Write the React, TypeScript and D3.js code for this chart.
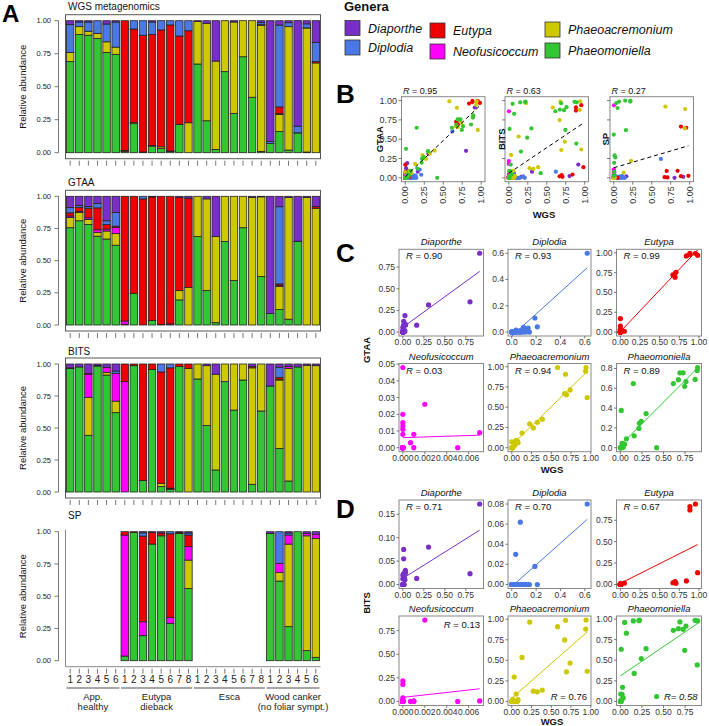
import React from "react";
import * as d3 from "d3";

const FONT = "'Liberation Sans', Arial, Helvetica, sans-serif";

const GENERA = ["Diaporthe", "Diplodia", "Eutypa", "Neofusicoccum", "Phaeoacremonium", "Phaeomoniella"];
const GENUS_COLORS = ["#7a2ec8", "#4a78e4", "#ee0000", "#ff00ff", "#cdc800", "#33c633"];
// stacking order of bars, bottom to top (columns of the abundance rows below)
const STACK_ORDER = ["Phaeomoniella", "Phaeoacremonium", "Neofusicoccum", "Eutypa", "Diplodia", "Diaporthe"];

const GROUP_NAMES = [["App.", "healthy"], ["Eutypa", "dieback"], ["Esca"], ["Wood canker", "(no foliar sympt.)"]];
const GROUP_SIZES = [6, 8, 8, 6];
const SAMPLE_LABELS = ["1", "2", "3", "4", "5", "6", "1", "2", "3", "4", "5", "6", "7", "8", "1", "2", "3", "4", "5", "6", "7", "8", "1", "2", "3", "4", "5", "6"];

// relative abundance per sample, columns in STACK_ORDER
const WGS = [
  [0.69, 0.07, 0, 0, 0.21, 0.03],
  [0.895, 0.06, 0, 0, 0.035, 0.01],
  [0.89, 0.03, 0, 0, 0.07, 0.01],
  [0.866, 0.038, 0, 0, 0.096, 0],
  [0.76, 0.08, 0, 0, 0.135, 0.025],
  [0.745, 0.055, 0, 0, 0.19, 0.01],
  [0.01, 0.005, 0.002, 0.983, 0, 0],
  [0.22, 0.01, 0, 0.707, 0.063, 0],
  [0.005, 0, 0, 0.885, 0.11, 0],
  [0.05, 0.005, 0, 0.84, 0.095, 0.01],
  [0.033, 0.012, 0, 0.885, 0.07, 0],
  [0.01, 0.002, 0.001, 0.955, 0.032, 0],
  [0.215, 0, 0, 0.669, 0.116, 0],
  [0, 0.227, 0, 0.697, 0.076, 0],
  [0.672, 0.323, 0, 0, 0, 0.005],
  [0.242, 0.738, 0, 0, 0, 0.02],
  [0.025, 0.669, 0, 0, 0, 0.306],
  [0.614, 0.386, 0, 0, 0, 0],
  [0.298, 0.692, 0, 0, 0, 0.01],
  [0.727, 0.273, 0, 0, 0, 0],
  [0.42, 0.58, 0, 0, 0, 0],
  [0.01, 0.955, 0.005, 0, 0.015, 0.015],
  [0.07, 0, 0, 0, 0.015, 0.915],
  [0.16, 0.13, 0.007, 0.05, 0.62, 0.033],
  [0.02, 0.935, 0, 0, 0.03, 0.015],
  [0.15, 0, 0.0007, 0, 0.05, 0.8],
  [0.005, 0.94, 0.001, 0, 0.03, 0.024],
  [0, 0.68, 0, 0.01, 0.145, 0.165],
];

const GTAA = [
  [0.756, 0.08, 0.011, 0.025, 0.04, 0.088],
  [0.81, 0.065, 0.008, 0.032, 0.015, 0.07],
  [0.78, 0.04, 0.013, 0.075, 0.012, 0.08],
  [0.69, 0.03, 0.02, 0.17, 0.035, 0.055],
  [0.668, 0.062, 0.015, 0.035, 0.03, 0.19],
  [0.62, 0.09, 0.048, 0.01, 0.107, 0.125],
  [0.005, 0, 0.026, 0.969, 0, 0],
  [0.246, 0, 0, 0.754, 0, 0],
  [0, 0, 0, 0.98, 0.02, 0],
  [0.034, 0, 0, 0.961, 0, 0.005],
  [0.005, 0, 0, 0.995, 0, 0],
  [0, 0, 0.008, 0.992, 0, 0],
  [0.195, 0.072, 0, 0.723, 0, 0.01],
  [0, 0.293, 0, 0.692, 0, 0.015],
  [0.687, 0.313, 0, 0, 0, 0],
  [0.267, 0.713, 0, 0, 0, 0.02],
  [0.018, 0.669, 0, 0, 0, 0.313],
  [0.648, 0.352, 0, 0, 0, 0],
  [0.345, 0.655, 0, 0, 0, 0],
  [0.756, 0.244, 0, 0, 0, 0],
  [0, 0.99, 0, 0, 0, 0.01],
  [0.376, 0.62, 0, 0, 0, 0.004],
  [0.09, 0, 0, 0, 0, 0.91],
  [0.12, 0.18, 0.009, 0.01, 0.6, 0.081],
  [0.045, 0.945, 0, 0, 0, 0.01],
  [0.648, 0, 0.003, 0, 0, 0.349],
  [0, 0.99, 0, 0, 0, 0.01],
  [0, 0.907, 0, 0.013, 0, 0.08],
];

const BITS = [
  [0.965, 0, 0, 0.005, 0, 0.03],
  [0.977, 0, 0, 0, 0, 0.023],
  [0.443, 0.297, 0.18, 0.005, 0, 0.075],
  [0.984, 0, 0, 0.004, 0, 0.012],
  [0.914, 0.021, 0.039, 0, 0, 0.026],
  [0.62, 0.09, 0.217, 0, 0.018, 0.055],
  [0, 0, 0.862, 0.138, 0, 0],
  [0.987, 0, 0, 0.013, 0, 0],
  [0.089, 0, 0, 0.911, 0, 0],
  [0.958, 0, 0, 0.042, 0, 0],
  [0.042, 0.026, 0, 0.87, 0.062, 0],
  [0.02, 0.005, 0.005, 0.94, 0.03, 0],
  [0.98, 0, 0, 0.02, 0, 0],
  [0, 0.966, 0, 0.034, 0, 0],
  [0.883, 0.117, 0, 0, 0, 0],
  [0.52, 0.467, 0, 0, 0, 0.013],
  [0.172, 0.748, 0, 0, 0, 0.08],
  [0.862, 0.138, 0, 0, 0, 0],
  [0.64, 0.36, 0, 0, 0, 0],
  [0.875, 0.125, 0, 0, 0, 0],
  [0.06, 0.91, 0, 0.01, 0, 0.02],
  [0.633, 0.367, 0, 0, 0, 0],
  [0.828, 0, 0, 0, 0, 0.172],
  [0.34, 0.535, 0.005, 0.015, 0.08, 0.025],
  [0.086, 0.88, 0.014, 0, 0, 0.02],
  [0.977, 0, 0, 0, 0, 0.023],
  [0, 0.99, 0, 0, 0, 0.01],
  [0, 0.987, 0, 0, 0, 0.013],
];

const SP = [
  null, null, null, null, null, null,
  [0.036, 0, 0.938, 0.026, 0, 0],
  [0.995, 0, 0, 0.005, 0, 0],
  [0.194, 0, 0.108, 0.664, 0.025, 0.009],
  [0.904, 0, 0, 0.091, 0, 0.005],
  [0.968, 0, 0, 0.022, 0, 0.01],
  [0.29, 0, 0.046, 0.648, 0.016, 0],
  [0.987, 0, 0, 0.008, 0, 0.005],
  [0.56, 0.22, 0.104, 0.09, 0.016, 0.01],
  null, null, null, null, null, null, null, null,
  [0.987, 0, 0, 0, 0, 0.013],
  [0.617, 0.068, 0.07, 0, 0.245, 0],
  [0.264, 0.64, 0.07, 0, 0.016, 0.01],
  [1, 0, 0, 0, 0, 0],
  [0.078, 0.89, 0.019, 0, 0, 0.013],
  [0.026, 0.922, 0.032, 0, 0, 0.02],
];

const ABUND_TICKS = [0, 0.25, 0.5, 0.75, 1];

// Panel B
const B_METHODS = ["GTAA", "BITS", "SP"];
const B_R = ["0.95", "0.63", "0.27"];
const B_FIT = [[0.015, 0.935], [0.06, 0.66], [0.13, 0.29]]; // intercept, slope

// Panels C / D (genus order as GENERA)
const C_R = ["0.90", "0.93", "0.99", "0.03", "0.94", "0.89"];
const D_R = ["0.71", "0.70", "0.67", "0.13", "0.76", "0.58"];
const C_FIT = [[0.055, 0.705], [-0.03, 0.838], [0.005, 1.05], [0.006, 0.214], [0.03, 0.953], [0.024, 0.873]];
const D_FIT = [[0.013, 0.1126], [-0.002, 0.1077], [0.012, 0.462], [0.043, 13.0], [0.04, 0.844], [0.31, 0.711]];
const X_TICKS = [
  [0, 0.25, 0.5, 0.75], [0, 0.2, 0.4, 0.6], [0, 0.25, 0.5, 0.75, 1],
  [0, 0.002, 0.004, 0.006], [0, 0.25, 0.5, 0.75, 1], [0, 0.25, 0.5, 0.75],
];
const C_Y_TICKS = [
  [0, 0.25, 0.5, 0.75], [0, 0.2, 0.4, 0.6], [0, 0.25, 0.5, 0.75, 1],
  [0, 0.01, 0.02, 0.03, 0.04, 0.05], [0, 0.25, 0.5, 0.75, 1], [0, 0.2, 0.4, 0.6, 0.8],
];
const D_Y_TICKS = [
  [0, 0.05, 0.1, 0.15], [0, 0.02, 0.04, 0.06, 0.08], [0, 0.25, 0.5, 0.75],
  [0, 0.25, 0.5, 0.75], [0, 0.25, 0.5, 0.75, 1], [0, 0.25, 0.5, 0.75, 1],
];

const colorOf = (g: string) => GENUS_COLORS[GENERA.indexOf(g)];
const col = (g: string) => STACK_ORDER.indexOf(g);

function fmtFor(ticks: number[]) {
  const dec = d3.max(ticks, (t) => {
    const s = String(+t.toFixed(6));
    const i = s.indexOf(".");
    return i < 0 ? 0 : s.length - i - 1;
  }) || 0;
  return (t: number) => t.toFixed(dec);
}

function expand(ext: [number, number]): [number, number] {
  const r = ext[1] - ext[0] || 1;
  return [ext[0] - 0.05 * r, ext[1] + 0.05 * r];
}

// ---------------- Panel A ----------------
const BAR_X = d3.scaleBand<number>().domain(d3.range(28)).range([66, 320]).paddingInner(0.18).paddingOuter(0.05);

function BarPanel({ title, rows, top, bottom, titleY, boxed }: any) {
  const y = d3.scaleLinear().domain([0, 1]).range([bottom, top]);
  const table = rows
    .map((r: any, i: number) => (r ? { i, ...Object.fromEntries(STACK_ORDER.map((k, j) => [k, r[j]])) } : null))
    .filter(Boolean);
  const series = d3.stack<any>().keys(STACK_ORDER)(table);
  const bx0 = 65.5, bx1 = 320.5, by0 = top - 6, by1 = bottom + 6;
  return (
    <g>
      <text x={68} y={titleY} fontSize={10} fill="#111">{title}</text>
      {series.map((s) => (
        <g key={s.key} fill={colorOf(s.key)}>
          {s.map((d: any) =>
            d[1] - d[0] > 0 ? (
              <rect key={d.data.i} x={BAR_X(d.data.i)} width={BAR_X.bandwidth()} y={y(d[1])} height={y(d[0]) - y(d[1])}
                stroke="#222" strokeWidth={0.8} />
            ) : null
          )}
        </g>
      ))}
      {boxed ? (
        <rect x={bx0} y={by0} width={bx1 - bx0} height={by1 - by0} fill="none" stroke="#555" strokeWidth={1} />
      ) : (
        <path d={`M${bx0},${by0 + 4}V${by1}H${bx1}`} fill="none" stroke="#888" strokeWidth={1} />
      )}
      <line x1={58.5} x2={58.5} y1={y(0)} y2={y(1)} stroke="#555" strokeWidth={0.8} />
      {ABUND_TICKS.map((t) => (
        <g key={t}>
          <line x1={54.5} x2={58.5} y1={y(t)} y2={y(t)} stroke="#555" strokeWidth={0.8} />
          <text x={51} y={y(t)} dy="0.35em" textAnchor="end" fontSize={7.5} fill="#222">{t.toFixed(2)}</text>
        </g>
      ))}
      {d3.range(28).map((i) => (
        <line key={i} x1={BAR_X(i)! + BAR_X.bandwidth() / 2} x2={BAR_X(i)! + BAR_X.bandwidth() / 2}
          y1={by1 + 2} y2={by1 + 7} stroke="#555" strokeWidth={0.8} />
      ))}
      <text transform={`translate(22.5,${(top + bottom) / 2}) rotate(-90)`} textAnchor="middle" dominantBaseline="central"
        fontSize={9.5} fill="#111">Relative abundance</text>
    </g>
  );
}

function SampleAxis() {
  let start = 0;
  const groups = GROUP_SIZES.map((n, gi) => {
    const g = { gi, first: start, last: start + n - 1 };
    start += n;
    return g;
  });
  return (
    <g>
      {SAMPLE_LABELS.map((s, i) => (
        <text key={i} x={BAR_X(i)! + BAR_X.bandwidth() / 2} y={683} textAnchor="middle" fontSize={10} fill="#222">{s}</text>
      ))}
      {groups.map((g) => {
        const x0 = BAR_X(g.first)!, x1 = BAR_X(g.last)! + BAR_X.bandwidth();
        const cx = (x0 + x1) / 2;
        return (
          <g key={g.gi}>
            <line x1={x0} x2={x1} y1={688} y2={688} stroke="#888" strokeWidth={1.6} />
            {GROUP_NAMES[g.gi].map((t, k) => (
              <text key={k} x={cx} y={700 + k * 10} textAnchor="middle" fontSize={9.5} fill="#222">{t}</text>
            ))}
          </g>
        );
      })}
    </g>
  );
}

// ---------------- Legend ----------------
const LEGEND_POS = [
  [345, 20.5], [345, 40], [430, 23], [430, 44], [545, 22], [545, 43],
];
function Legend() {
  return (
    <g>
      <text x={344} y={10.5} fontSize={13} fontWeight="bold" fill="#111">Genera</text>
      {GENERA.map((g, i) => (
        <g key={g}>
          <rect x={LEGEND_POS[i][0]} y={LEGEND_POS[i][1]} width={15} height={15} fill={GENUS_COLORS[i]} stroke="#333" strokeWidth={0.8} />
          <text x={LEGEND_POS[i][0] + 23} y={LEGEND_POS[i][1] + 12} fontSize={12.5} fontStyle="italic" fill="#111">{g}</text>
        </g>
      ))}
    </g>
  );
}

// ---------------- Panel B ----------------
const B_BOX_X = [[401.5, 485], [505, 588.5], [610, 693.5]];
const B_BOX_Y = [96.7, 181.7];
const B_LABEL_X = [379, 501, 605.5];
const METHOD_ROWS: any = { GTAA, BITS, SP };

function BPanel({ mi }: any) {
  const rows = METHOD_ROWS[B_METHODS[mi]];
  const [x0, x1] = B_BOX_X[mi];
  const [y0, y1] = B_BOX_Y;
  const x = d3.scaleLinear().domain([-0.05, 1.05]).range([x0, x1]);
  const y = d3.scaleLinear().domain([-0.05, 1.05]).range([y1, y0]);
  const pts: any[] = [];
  GENERA.forEach((g) => {
    rows.forEach((row: any, s: number) => {
      if (row) pts.push({ g, wx: WGS[s][col(g)], my: row[col(g)] });
    });
  });
  const xe = d3.extent(pts, (p) => p.wx) as [number, number];
  const [a, b] = B_FIT[mi];
  const ticks = [0, 0.25, 0.5, 0.75, 1];
  return (
    <g>
      <rect x={x0} y={y0} width={x1 - x0} height={y1 - y0} fill="#fff" stroke="#888" strokeWidth={1} />
      {pts.map((p, i) => (
        <circle key={i} cx={x(p.wx)} cy={y(p.my)} r={2.1} fill={colorOf(p.g)} />
      ))}
      <line x1={x(xe[0])} y1={y(a + b * xe[0])} x2={x(xe[1])} y2={y(a + b * xe[1])} stroke="#000" strokeWidth={1}
        strokeDasharray="4,3" />
      {ticks.map((t) => (
        <g key={t}>
          <line x1={x0 - 3} x2={x0} y1={y(t)} y2={y(t)} stroke="#444" strokeWidth={0.7} />
          {mi === 0 ? (
            <text x={x0 - 4.5} y={y(t)} dy="0.35em" textAnchor="end" fontSize={9} fill="#333">{t.toFixed(2)}</text>
          ) : null}
          <line x1={x(t)} x2={x(t)} y1={y1} y2={y1 + 3} stroke="#444" strokeWidth={0.7} />
          <text transform={`translate(${x(t)},${y1 + 4.5}) rotate(-90)`} textAnchor="end" dominantBaseline="central"
            fontSize={9} fill="#333">{t.toFixed(2)}</text>
        </g>
      ))}
      <text x={x0 + 1.5} y={y0 - 3} fontSize={9} fill="#111">
        <tspan fontStyle="italic">R</tspan> = {B_R[mi]}
      </text>
      <text transform={`translate(${B_LABEL_X[mi]},${(y0 + y1) / 2}) rotate(-90)`} textAnchor="middle"
        dominantBaseline="central" fontSize={9.5} fontWeight="bold" fill="#111">{B_METHODS[mi]}</text>
    </g>
  );
}

// ---------------- Panels C / D ----------------
const COL_X = [[399, 483.5], [508, 591], [616.5, 701.5]];
const C_ROW_Y = [[249.3, 336], [363.5, 451.7]];
const D_ROW_Y = [[500, 588.5], [616, 705.5]];
// R label placement per facet: tl = top-left, tr = top-right, br = bottom-right
const C_R_POS = ["tl", "tl", "tl", "tl", "tl", "tl"];
const D_R_POS = ["tl", "tl", "tl", "tr", "br", "br"];

function Facet({ gi, rows, rowY, yTicks, fit, rText, rPos, italicAll }: any) {
  const g = GENERA[gi];
  const [x0, x1] = COL_X[gi % 3];
  const [y0, y1] = rowY[Math.floor(gi / 3)];
  const pts = rows.map((row: any, s: number) => [WGS[s][col(g)], row[col(g)]]);
  const xe = d3.extent(pts, (p: any) => p[0]) as [number, number];
  const ye = d3.extent(pts, (p: any) => p[1]) as [number, number];
  const x = d3.scaleLinear().domain(expand(xe)).range([x0, x1]);
  const y = d3.scaleLinear().domain(expand(ye)).range([y1, y0]);
  const xt = X_TICKS[gi];
  const fx = fmtFor(xt), fy = fmtFor(yTicks);
  const [a, b] = fit;
  let rx = x0 + 7, ry = y0 + 10, anchor = "start";
  if (rPos === "tr") { rx = x1 - 3.5; ry = y0 + 12; anchor = "end"; }
  if (rPos === "br") { rx = x1 - 4; ry = y1 - 6; anchor = "end"; }
  return (
    <g>
      <rect x={x0} y={y0} width={x1 - x0} height={y1 - y0} fill="#fff" stroke="#888" strokeWidth={1} />
      {pts.map((p: any, i: number) => (
        <circle key={i} cx={x(p[0])} cy={y(p[1])} r={2.6} fill={GENUS_COLORS[gi]} />
      ))}
      <line x1={x(xe[0])} y1={y(a + b * xe[0])} x2={x(xe[1])} y2={y(a + b * xe[1])} stroke={GENUS_COLORS[gi]} strokeWidth={1} />
      {yTicks.map((t: number) => (
        <g key={t}>
          <line x1={x0 - 2.5} x2={x0} y1={y(t)} y2={y(t)} stroke="#444" strokeWidth={0.7} />
          <text x={x0 - 4} y={y(t)} dy="0.35em" textAnchor="end" fontSize={8.5} fill="#333">{fy(t)}</text>
        </g>
      ))}
      {xt.map((t: number) => (
        <g key={t}>
          <line x1={x(t)} x2={x(t)} y1={y1} y2={y1 + 2.5} stroke="#444" strokeWidth={0.7} />
          <text x={x(t)} y={y1 + 9} textAnchor="middle" fontSize={8.5} fill="#333">{fx(t)}</text>
        </g>
      ))}
      <text x={(x0 + x1) / 2} y={y0 - 4} textAnchor="middle" fontSize={9.5} fontStyle="italic" fill="#111">{g}</text>
      <text x={rx} y={ry} textAnchor={anchor} fontSize={9.5} fill="#111" fontStyle={italicAll ? "italic" : "normal"}>
        {italicAll ? `R= ${rText}` : (<><tspan fontStyle="italic">R</tspan> = {rText}</>)}
      </text>
    </g>
  );
}

export default function App() {
  return (
    <svg width={709} height={726} viewBox="0 0 709 726"
      style={{ position: "absolute", left: 0, top: 0, background: "#fff", fontFamily: FONT }}>
      <rect x={0} y={0} width={709} height={726} fill="#fff" />
      {/* Panel A */}
      <text x={2} y={22} fontSize={24} fontWeight="bold" fill="#000">A</text>
      <BarPanel title="WGS metagenomics" rows={WGS} top={20.7} bottom={152.7} titleY={9.5} boxed />
      <BarPanel title="GTAA" rows={GTAA} top={196.3} bottom={325} titleY={185.5} boxed />
      <BarPanel title="BITS" rows={BITS} top={364} bottom={492} titleY={355} boxed />
      <BarPanel title="SP" rows={SP} top={531.7} bottom={660.7} titleY={519} boxed={false} />
      <SampleAxis />

      <Legend />

      {/* Panel B */}
      <text x={336} y={103} fontSize={26} fontWeight="bold" fill="#000">B</text>
      {[0, 1, 2].map((mi) => <BPanel key={mi} mi={mi} />)}
      <text x={544} y={218} textAnchor="middle" fontSize={9.5} fontWeight="bold" fill="#111">WGS</text>

      {/* Panel C */}
      <text x={336} y={261.5} fontSize={26} fontWeight="bold" fill="#000">C</text>
      {GENERA.map((g, gi) => (
        <Facet key={g} gi={gi} rows={GTAA} rowY={C_ROW_Y} yTicks={C_Y_TICKS[gi]} fit={C_FIT[gi]} rText={C_R[gi]}
          rPos={C_R_POS[gi]} />
      ))}
      <text x={552} y={473} textAnchor="middle" fontSize={9.5} fontWeight="bold" fill="#111">WGS</text>
      <text transform="translate(366,350) rotate(-90)" textAnchor="middle" dominantBaseline="central" fontSize={9.5}
        fontWeight="bold" fill="#111">GTAA</text>

      {/* Panel D */}
      <text x={336} y={518} fontSize={26} fontWeight="bold" fill="#000">D</text>
      {GENERA.map((g, gi) => (
        <Facet key={g} gi={gi} rows={BITS} rowY={D_ROW_Y} yTicks={D_Y_TICKS[gi]} fit={D_FIT[gi]} rText={D_R[gi]}
          rPos={D_R_POS[gi]} italicAll={gi === 5} />
      ))}
      <text x={552} y={724.5} textAnchor="middle" fontSize={9.5} fontWeight="bold" fill="#111">WGS</text>
      <text transform="translate(366,603) rotate(-90)" textAnchor="middle" dominantBaseline="central" fontSize={9.5}
        fontWeight="bold" fill="#111">BITS</text>
    </svg>
  );
}
